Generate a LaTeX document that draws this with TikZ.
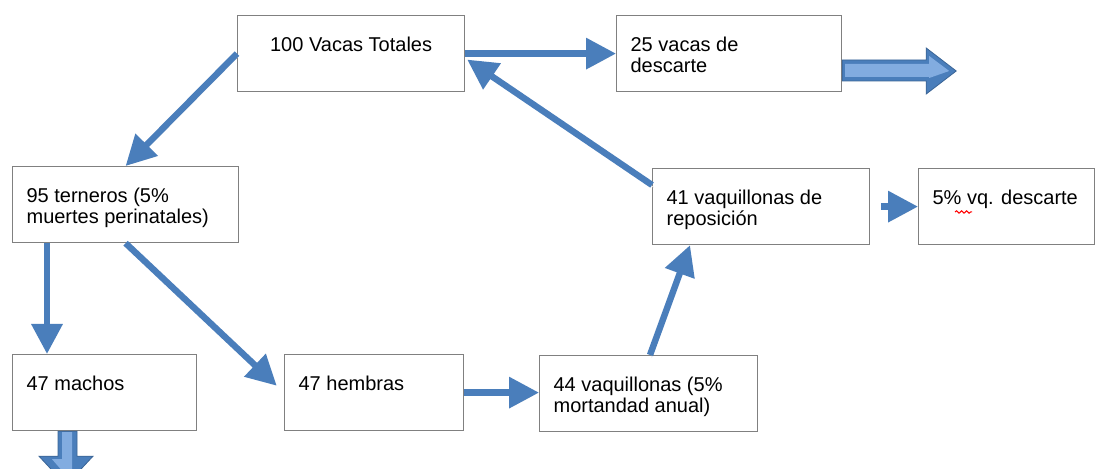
\documentclass[tikz,border=0pt]{standalone}
\usepackage{fontspec}
\setmainfont{Liberation Sans}
\usetikzlibrary{arrows.meta,calc,decorations.pathmorphing}

\definecolor{azul}{RGB}{74,126,187}
\definecolor{celeste}{RGB}{130,172,224}
\definecolor{borde}{RGB}{128,128,128}

% text of one box, top aligned
\newcommand{\caja}[2]{\parbox[c][38pt][t]{#1}{\raggedright\rule{0pt}{18pt}#2}}

\tikzset{
  cajon/.style={draw=borde, line width=0.6pt, anchor=north west,
    inner xsep=7pt, inner ysep=0pt, minimum height=38pt,
    font=\fontsize{10}{10.5}\selectfont},
  flecha/.style={draw=azul, line width=3.2pt,
    -{Triangle[length=15pt,width=15pt]},
    preaction={draw=black!10, transform canvas={shift={(0.8pt,-1.2pt)}}}},
  bloque/.style={fill=azul, draw=azul!80!black, line width=0.4pt},
  brillo/.style={fill=celeste}
}

\begin{document}
\begin{tikzpicture}[x=0.5pt, y=-0.5pt]
    \clip (0,0) rectangle (1096,469);
    \fill[white] (0,0) rectangle (1096,469);

    % boxes (pixel coordinates, y down)
    \node[cajon] (vacas) at (237,15)
      {\parbox[c][38pt][t]{99.5pt}{\centering\rule{0pt}{18pt}100 Vacas Totales}};
    \node[cajon] (descarte25) at (616,15) {\caja{98.5pt}{25 vacas de\\descarte}};
    \node[cajon] (terneros) at (12,166) {\caja{99pt}{95 terneros (5\%\\muertes perinatales)}};
    \node[cajon] (repos) at (652,168) {\caja{94.5pt}{41 vaquillonas de\\reposición}};
    \node[cajon] (vqdesc) at (918,168) {\caja{74pt}{5\% vq. descarte}};
    \node[cajon] (machos) at (12,354) {\caja{78pt}{47 machos}};
    \node[cajon] (hembras) at (284,354) {\caja{75.5pt}{47 hembras}};
    \node[cajon] (vaq44) at (539,355) {\caja{95pt}{44 vaquillonas (5\%\\mortandad anual)}};

    % spell check mark under vq
    \draw[red, line width=0.5pt, decorate,
      decoration={snake, amplitude=0.6pt, segment length=2.5pt}]
      ($(vqdesc.north west)+(37,44)$) -- ++(17,0);

    % arrows
    \draw[flecha] (vacas.west) -- (terneros.north);
    \draw[flecha] (vacas.east) -- (descarte25.west);
    \draw[flecha] ($(repos.north west)+(0,17)$) -- ($(vacas.east)+(2,6)$);
    \draw[flecha] ($(terneros.south west)+(35,0)$) -- ($(machos.north west)+(35,0)$);
    \draw[flecha, shorten >=5pt] (terneros.south) -- (hembras.west);
    \draw[flecha] (hembras.east) -- (hembras.east -| vaq44.west);
    \draw[flecha] ($(vaq44.north west)+(111,0)$) -- ($(repos.south west)+(38,0)$);
    \draw[flecha, shorten <=5.5pt] (repos.east) -- (vqdesc.west);

    % block arrows out of the herd
    \draw[bloque]
      (descarte25.north east) ++(0,45) -- ++(84,0) -- ++(0,-12) -- ++(30,23)
      -- ++(-30,23) -- ++(0,-13) -- ++(-84,0) -- cycle;
    \fill[brillo]
      (descarte25.north east) ++(3,49) -- ++(84,0) -- ++(0,-8) -- ++(20,15)
      -- ++(-20,7) -- ++(0,-1) -- ++(-84,0) -- cycle;
    \draw[bloque]
      (machos.south west) ++(46,0) -- ++(0,25) -- ++(-19,0) -- ++(27,29)
      -- ++(27,-29) -- ++(-16,0) -- ++(0,-25) -- cycle;
    \fill[brillo]
      (machos.south west) ++(50,1) -- ++(0,27) -- ++(-10,0) -- ++(14,16)
      -- ++(6,0) -- ++(0,-43) -- cycle;
\end{tikzpicture}
\end{document}
